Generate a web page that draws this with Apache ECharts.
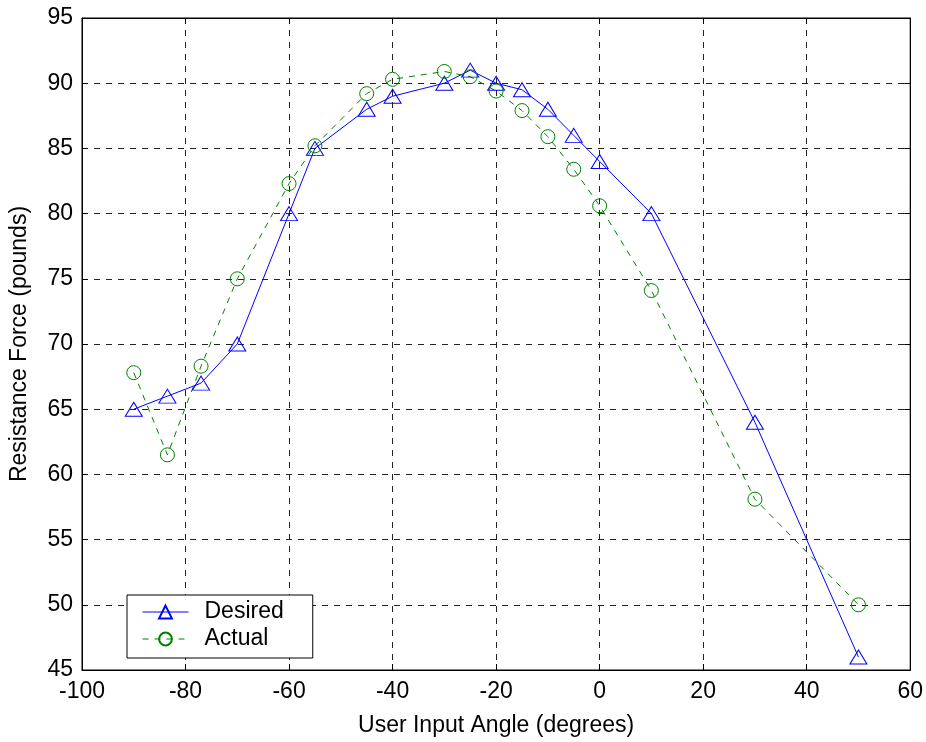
<!DOCTYPE html>
<html><head><meta charset="utf-8">
<script src="https://cdn.jsdelivr.net/npm/echarts@6/dist/echarts.min.js"></script>
<style>html,body{margin:0;padding:0;background:#fff}#c{width:926px;height:742px}</style>
</head><body><div id="c"></div>
<script>
const angles = [-90, -83.5, -77, -70, -60, -55, -45, -40, -30, -25, -20, -15, -10, -5, 0, 10, 30, 50];
const desired = [65, 66, 67, 70, 80, 85, 88, 89, 90, 91, 90, 89.5, 88, 86, 84, 80, 64, 46];
const actual = [67.8, 61.5, 68.3, 75, 82.3, 85.2, 89.2, 90.3, 90.9, 90.5, 89.4, 87.9, 85.9, 83.4, 80.6, 74.1, 58.1, 50];
const seriesNames = ['Desired', 'Actual'];
const xTitle = 'User Input Angle (degrees)';
const yTitle = 'Resistance Force (pounds)';

const font = 'Liberation Sans, Arial, sans-serif';
const fs = 23;
const pair = (xs, ys) => xs.map((x, i) => [x, ys[i]]);
const split = {show: true, lineStyle: {color: '#222', type: [6, 6], width: 1}};
const tick = {show: true, inside: true, length: 6, lineStyle: {color: '#000'}};
const line = {show: true, onZero: false, lineStyle: {color: '#000'}};
const chart = echarts.init(document.getElementById('c'));
chart.setOption({
  animation: false,
  backgroundColor: '#fff',
  grid: {left: 81, right: 15, top: 18, bottom: 71, show: true, borderColor: '#000', borderWidth: 1},
  xAxis: [{
    type: 'value', min: -100, max: 60, interval: 20,
    name: xTitle, nameLocation: 'middle', nameGap: 44,
    nameTextStyle: {fontFamily: font, fontSize: fs, color: '#000'},
    axisLine: line, axisTick: tick,
    axisLabel: {fontFamily: font, fontSize: fs, color: '#000', margin: 10},
    splitLine: split
  }, {
    type: 'value', min: -100, max: 60, interval: 20, position: 'top',
    axisLine: line, axisTick: tick,
    axisLabel: {show: false}, splitLine: {show: false}
  }],
  yAxis: [{
    type: 'value', min: 45, max: 95, interval: 5,
    name: yTitle, nameLocation: 'middle', nameGap: 51,
    nameTextStyle: {fontFamily: font, fontSize: fs, color: '#000'},
    axisLine: line, axisTick: tick,
    axisLabel: {fontFamily: font, fontSize: fs, color: '#000', margin: 9},
    splitLine: split
  }, {
    type: 'value', min: 45, max: 95, interval: 5, position: 'right',
    axisLine: line, axisTick: tick,
    axisLabel: {show: false}, splitLine: {show: false}
  }],
  legend: {
    left: 127, top: 595, orient: 'vertical',
    backgroundColor: '#fff', borderColor: '#000', borderWidth: 1, borderRadius: 0,
    padding: [5, 29, 7, 15], itemGap: 3, itemWidth: 46, itemHeight: 16,
    lineStyle: {width: 1},
    textStyle: {fontFamily: font, fontSize: fs, color: '#000', lineHeight: 24, padding: [0, 0, 0, 11]},
    data: seriesNames
  },
  series: [{
    name: seriesNames[0], type: 'line', data: pair(angles, desired),
    symbol: 'triangle', symbolSize: [17, 14],
    lineStyle: {color: '#0000ff', width: 1},
    itemStyle: {color: 'rgba(255,255,255,0)', borderColor: '#0000ff', borderWidth: 1}
  }, {
    name: seriesNames[1], type: 'line', data: pair(angles, actual),
    symbol: 'circle', symbolSize: 14,
    lineStyle: {color: '#008000', width: 1, type: [6, 6]},
    itemStyle: {color: 'rgba(255,255,255,0)', borderColor: '#008000', borderWidth: 1}
  }]
});
</script></body></html>
